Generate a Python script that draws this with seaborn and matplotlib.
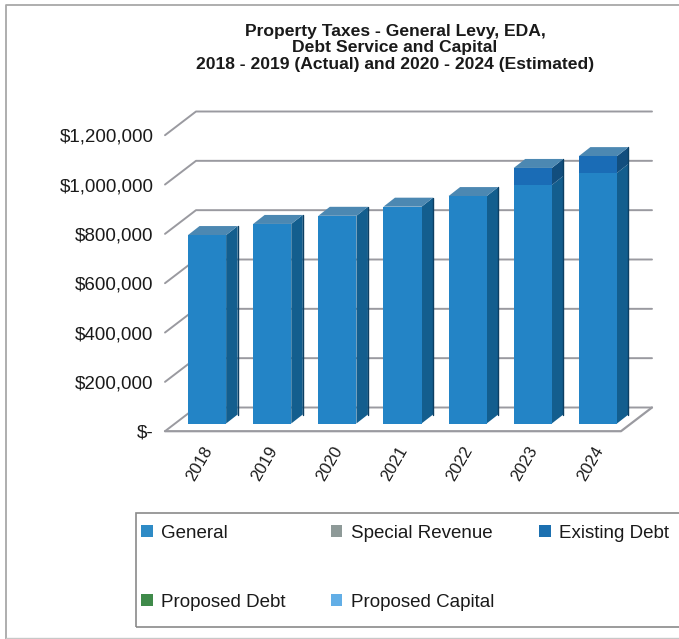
import matplotlib
matplotlib.use("Agg")
import matplotlib.pyplot as plt
from matplotlib.lines import Line2D
from matplotlib.patches import Patch, Polygon, Rectangle
from matplotlib.transforms import ScaledTranslation
import pandas as pd
import seaborn as sns

years = ["2018", "2019", "2020", "2021", "2022", "2023", "2024"]
general = [764000, 809000, 842000, 879000, 922000, 967000, 1016000]
special_revenue = [0, 0, 0, 0, 0, 0, 0]
existing_debt = [0, 0, 0, 0, 0, 69000, 68000]
proposed_debt = [0, 0, 0, 0, 0, 0, 0]
proposed_capital = [0, 0, 0, 0, 0, 0, 0]
y_ticks = [0, 200000, 400000, 600000, 800000, 1000000, 1200000]
y_labels = ["$-", "$200,000", "$400,000", "$600,000", "$800,000", "$1,000,000", "$1,200,000"]
legend_names = ["General", "Special Revenue", "Existing Debt", "Proposed Debt", "Proposed Capital"]
legend_colors = ["#2E8BC6", "#8E9A98", "#1C70B0", "#3F8A4A", "#62AEE6"]
title_text = ("Property Taxes - General Levy, EDA,\nDebt Service and Capital\n"
              "2018 - 2019 (Actual) and 2020 - 2024 (Estimated)")

W, H = 679, 639
FACE_GENERAL, FACE_DEBT = "#2384C6", "#1A6CB6"
SIDE_GENERAL, SIDE_DEBT = "#135E8E", "#124E7E"
TOP_COLOR = "#4C88B2"
GRID = "#9A9AA0"
INK = "#1A1A1A"

sns.set_theme(style="white")
plt.rcParams["font.family"] = ["Liberation Sans", "DejaVu Sans"]

fig = plt.figure(figsize=(W / 100, H / 100), dpi=100, facecolor="white")

# Axes are aligned with the front plane of the bars
ax_left, ax_right, ax_base, ax_top = 174.5, 630.5, 423.5, 127.5
ax = fig.add_axes([ax_left / W, 1 - ax_base / H, (ax_right - ax_left) / W, (ax_base - ax_top) / H])
ax.set_facecolor("none")

px_x = (ax_right - ax_left) / len(years)
px_y = (ax_base - ax_top) / 1200000


def shift(x, y, dx_px, dy_px):
    """Move a data point by a pixel offset to fake the 3-D depth."""
    return x + dx_px / px_x, y + dy_px / px_y


# Floor and back walls of the 3-D box
x0, x1 = -0.5, len(years) - 0.5
FRONT = (-9.5, -7.7)
BACK = (21.5, 16.0)
for value in y_ticks:
    p_front = shift(x0, value, *FRONT)
    p_back = shift(x0, value, *BACK)
    p_end = shift(x1, value, *BACK)
    ax.add_line(Line2D([p_front[0], p_back[0], p_end[0]], [p_front[1], p_back[1], p_end[1]],
                       color=GRID, lw=1.4, clip_on=False, zorder=1))
corner_a = shift(x0, 0, *FRONT)
corner_b = shift(x1, 0, *FRONT)
corner_c = shift(x1, 0, *BACK)
ax.add_line(Line2D([corner_a[0], corner_b[0], corner_c[0]], [corner_a[1], corner_b[1], corner_c[1]],
                   color=GRID, lw=1.6, clip_on=False, zorder=1))

totals = [g + s + e + d + c for g, s, e, d, c in
          zip(general, special_revenue, existing_debt, proposed_debt, proposed_capital)]
frame = pd.DataFrame({"year": years, "general": general, "total": totals})

# Front faces: the stack total first, then the general levy over it
sns.barplot(data=frame, x="year", y="total", color=FACE_DEBT, saturation=1, width=0.585,
            order=years, ax=ax, zorder=3, linewidth=0)
sns.barplot(data=frame, x="year", y="general", color=FACE_GENERAL, saturation=1, width=0.585,
            order=years, ax=ax, zorder=3, linewidth=0)

# Side and top faces of each bar
half = 0.585 / 2
DEPTH = (11.5, 9.0)
for i, (g, t) in enumerate(zip(general, totals)):
    xr = i + half
    xl = i - half
    dx = DEPTH[0] / px_x
    dy = DEPTH[1] / px_y
    ax.add_patch(Polygon([(xr, 0), (xr + dx, dy), (xr + dx, g + dy), (xr, g)],
                         fc=SIDE_GENERAL, ec="none", clip_on=False, zorder=2.5))
    if t > g:
        ax.add_patch(Polygon([(xr, g), (xr + dx, g + dy), (xr + dx, t + dy), (xr, t)],
                             fc=SIDE_DEBT, ec="none", clip_on=False, zorder=2.5))
    ax.add_patch(Polygon([(xl, t), (xr, t), (xr + dx, t + dy), (xl + dx, t + dy)],
                         fc=TOP_COLOR, ec="none", clip_on=False, zorder=2.5))
    ax.add_line(Line2D([xr + dx, xr + dx], [0 + dy, t + dy], color="#0C3F63", lw=1.0,
                       clip_on=False, zorder=2.6))

ax.set_xlim(x0, x1)
ax.set_ylim(0, 1200000)
ax.set_xlabel("")
ax.set_ylabel("")
ax.set_yticks(y_ticks)
ax.set_yticklabels(y_labels, fontsize=13.5, color=INK)
ax.tick_params(axis="y", length=0, pad=0)
ax.tick_params(axis="x", length=0, pad=0)
ax.set_xticks(range(len(years)))
ax.set_xticklabels(years, fontsize=12, color=INK, rotation=60, ha="right", rotation_mode="anchor")
sns.despine(ax=ax, left=True, bottom=True)
ax.grid(False)

# Tick labels sit on the front edge of the floor rather than on the bar plane
y_offset = ScaledTranslation(-21 / 100, -7.7 / 100, fig.dpi_scale_trans)
for label in ax.get_yticklabels():
    label.set_transform(label.get_transform() + y_offset)
x_offset = ScaledTranslation(-5 / 100, -20 / 100, fig.dpi_scale_trans)
for label in ax.get_xticklabels():
    label.set_transform(label.get_transform() + x_offset)

fig.text(395 / W, 1 - 24 / H, title_text, ha="center", va="top", fontsize=12.6, fontweight="bold",
         color=INK, linespacing=1.12)

# Outer frame and legend box, both running off the page edge
fig.add_artist(Line2D([5.5 / W, 5.5 / W, 1], [0, 1 - 5 / H, 1 - 5 / H], color="#A8A8A8", lw=1.3,
                      transform=fig.transFigure))
fig.add_artist(Line2D([5.5 / W, 1], [1 / H, 1 / H], color="#C8C8C8", lw=1.0, transform=fig.transFigure))
fig.add_artist(Rectangle((136 / W, 1 - 627 / H), (W + 20 - 136) / W, 114 / H, transform=fig.transFigure,
                         fc="none", ec="#8A8A8A", lw=1.2))

handles = [Patch(fc=c, ec="none", label=n) for c, n in zip(legend_colors, legend_names)]
order = [0, 3, 1, 4, 2]
fig.legend([handles[i] for i in order], [legend_names[i] for i in order], ncol=3, frameon=False,
           loc="upper left", bbox_to_anchor=(141 / W, 1 - 525 / H), fontsize=13.5, labelcolor=INK,
           handlelength=0.62, handleheight=0.62, handletextpad=0.45, columnspacing=2.4,
           labelspacing=2.75, borderpad=0, borderaxespad=0)

fig.savefig("out.png", dpi=100, facecolor="white")
